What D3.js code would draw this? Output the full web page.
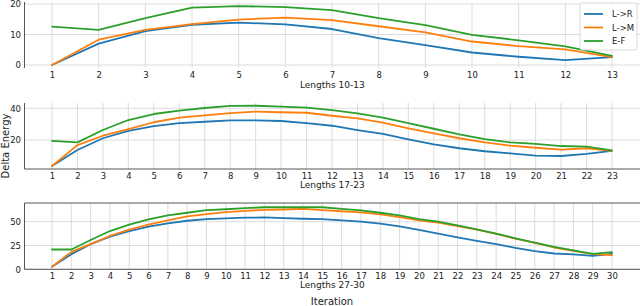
<!DOCTYPE html>
<html><head><meta charset="utf-8">
<script src="https://cdn.jsdelivr.net/npm/d3@7"></script>
<style>
body{margin:0;background:#fff;}
svg{display:block;font-family:"DejaVu Sans",sans-serif;}
</style></head>
<body><svg id="c" width="640" height="306"></svg>
<script>
const seriesNames = ["L->R", "L->M", "E-F"];
const colors = ["#1f77b4", "#ff7f0e", "#2ca02c"];

const iter1 = [1,2,3,4,5,6,7,8,9,10,11,12,13];
const p1LR = [0, 7.0, 11.1, 13.2, 13.9, 13.3, 11.8, 8.8, 6.5, 4.1, 2.7, 1.6, 2.6];
const p1LM = [0, 8.3, 11.5, 13.4, 14.9, 15.5, 14.7, 12.7, 10.7, 7.7, 6.2, 5.1, 2.6];
const p1EF = [12.6, 11.5, 15.4, 18.8, 19.3, 19.0, 18.0, 15.4, 13.1, 9.9, 8.1, 6.1, 3.0];
const yTicks1 = [0, 10, 20];

const iter2 = [1,2,3,4,5,6,7,8,9,10,11,12,13,14,15,16,17,18,19,20,21,22,23];
const p2LR = [3.6,13.7,21.1,25.7,28.8,30.7,31.5,32.4,32.4,32.0,30.7,29.0,26.3,23.8,20.4,17.3,14.8,12.9,11.6,10.1,9.9,11.2,13.1];
const p2LM = [3.6,16.8,22.7,26.9,31.2,34.1,35.6,37.0,37.9,37.5,37.2,35.3,33.7,30.9,27.4,24.2,21.1,18.5,16.4,15.1,13.9,14.8,13.2];
const p2EF = [19.4,18.5,26.3,32.6,36.4,38.5,40.2,41.5,41.6,41.0,40.4,38.9,36.8,34.1,30.7,27.1,23.6,20.6,18.5,17.5,16.2,15.8,13.5];
const yTicks2 = [20, 40];

const iter3 = [1,2,3,4,5,6,7,8,9,10,11,12,13,14,15,16,17,18,19,20,21,22,23,24,25,26,27,28,29,30];
const p3LR = [2.7,15.9,26.4,34.4,40.2,44.8,48.2,51.0,52.7,53.4,54.2,54.5,53.8,53.1,52.7,51.4,50.0,47.9,45.1,41.3,37.5,33.6,29.8,26.4,22.5,19.1,16.6,15.6,14.2,16.3];
const p3LM = [2.7,18.3,26.4,35.0,41.6,46.9,51.4,55.5,57.9,60.0,61.4,62.5,62.8,63.5,62.1,61.0,59.7,57.6,54.8,51.4,49.0,45.4,41.7,37.1,32.3,27.7,22.9,19.4,15.9,14.9];
const p3EF = [20.8,20.8,30.8,40.2,46.9,52.4,56.6,59.4,62.1,63.1,64.2,65.2,65.2,65.2,65.2,63.5,61.8,59.4,56.6,52.7,50.0,46.1,42.0,37.5,32.6,28.1,23.5,19.8,16.3,18.0];
const yTicks3 = [0, 25, 50];

const xLabels = ["Lengths 10-13", "Lengths 17-23", "Lengths 27-30"];

const svg = d3.select("#c");
const left = 24.5, right = 640;

const panels = [
  {iters: iter1, series: [p1LR, p1LM, p1EF], yt: yTicks1, ydom: [0, 20], yr: [65, 4], top: 2, bottom: 68, spineTop: false, spineBottom: false, labelY: 88},
  {iters: iter2, series: [p2LR, p2LM, p2EF], yt: yTicks2, ydom: [20, 40], yr: [140, 108.3], top: 103, bottom: 169, spineTop: false, spineBottom: true, labelY: 188},
  {iters: iter3, series: [p3LR, p3LM, p3EF], yt: yTicks3, ydom: [0, 50], yr: [269.3, 221.7], top: 203, bottom: 269.3, spineTop: true, spineBottom: true, labelY: 288}
];

panels.forEach((p, pi) => {
  const n = p.iters.length;
  const x = d3.scaleLinear().domain([1, n]).range([52, 612]);
  const y = d3.scaleLinear().domain(p.ydom).range(p.yr);
  const g = svg.append("g");
  // grid
  g.selectAll(".vg").data(p.iters).enter().append("line")
    .attr("x1", d => x(d)).attr("x2", d => x(d))
    .attr("y1", p.top).attr("y2", p.bottom)
    .attr("stroke", "#dcdcdc").attr("stroke-width", 1);
  g.selectAll(".hg").data(p.yt).enter().append("line")
    .attr("x1", left).attr("x2", right)
    .attr("y1", d => y(d)).attr("y2", d => y(d))
    .attr("stroke", "#dcdcdc").attr("stroke-width", 1);
  // spines
  g.append("line").attr("x1", left).attr("x2", left).attr("y1", p.top).attr("y2", p.bottom)
    .attr("stroke", "#555").attr("stroke-width", 1);
  if (p.spineBottom) g.append("line").attr("x1", left).attr("x2", right).attr("y1", p.bottom).attr("y2", p.bottom)
    .attr("stroke", "#555").attr("stroke-width", 1);
  if (p.spineTop) g.append("line").attr("x1", left).attr("x2", right).attr("y1", p.top).attr("y2", p.top)
    .attr("stroke", "#555").attr("stroke-width", 1);
  // axes
  const ya = g.append("g").attr("transform", `translate(${left},0)`)
    .call(d3.axisLeft(y).tickValues(p.yt).tickSize(0).tickPadding(3.5));
  ya.select(".domain").remove();
  ya.selectAll("text").attr("font-size", 8.5).attr("fill", "#222").attr("font-family", "DejaVu Sans");
  const xa = g.append("g").attr("transform", `translate(0,${p.bottom})`)
    .call(d3.axisBottom(x).tickValues(p.iters).tickFormat(d3.format("d")).tickSize(0).tickPadding(4));
  xa.select(".domain").remove();
  xa.selectAll("text").attr("font-size", 8.5).attr("fill", "#222").attr("font-family", "DejaVu Sans");
  // lines
  const line = d3.line().x((d, i) => x(p.iters[i])).y(d => y(d));
  p.series.forEach((s, si) => {
    g.append("path").datum(s).attr("d", line)
      .attr("fill", "none").attr("stroke", colors[si]).attr("stroke-width", 1.8)
      .attr("stroke-linejoin", "round").attr("stroke-linecap", "round");
  });
  // x label
  svg.append("text").attr("x", (left + right) / 2).attr("y", p.labelY)
    .attr("text-anchor", "middle").attr("font-size", 9).attr("fill", "#222").text(xLabels[pi]);
});

// legend
const lg = svg.append("g");
lg.append("rect").attr("x", 580).attr("y", 3).attr("width", 57).attr("height", 47).attr("rx", 2)
  .attr("fill", "#fff").attr("fill-opacity", 0.85).attr("stroke", "#d0d0d0").attr("stroke-width", 0.8);
seriesNames.forEach((nm, i) => {
  const yy = 14 + i * 13.5;
  lg.append("line").attr("x1", 584).attr("x2", 603).attr("y1", yy).attr("y2", yy)
    .attr("stroke", colors[i]).attr("stroke-width", 1.8);
  lg.append("text").attr("x", 612).attr("y", yy + 3).attr("font-size", 8.5).attr("fill", "#222").text(nm);
});

svg.append("text").attr("x", 332).attr("y", 305).attr("text-anchor", "middle")
  .attr("font-size", 10).attr("fill", "#222").text("Iteration");
svg.append("text").attr("transform", "translate(8.5,146) rotate(-90)").attr("text-anchor", "middle")
  .attr("font-size", 10).attr("fill", "#222").text("Delta Energy");
</script></body></html>
